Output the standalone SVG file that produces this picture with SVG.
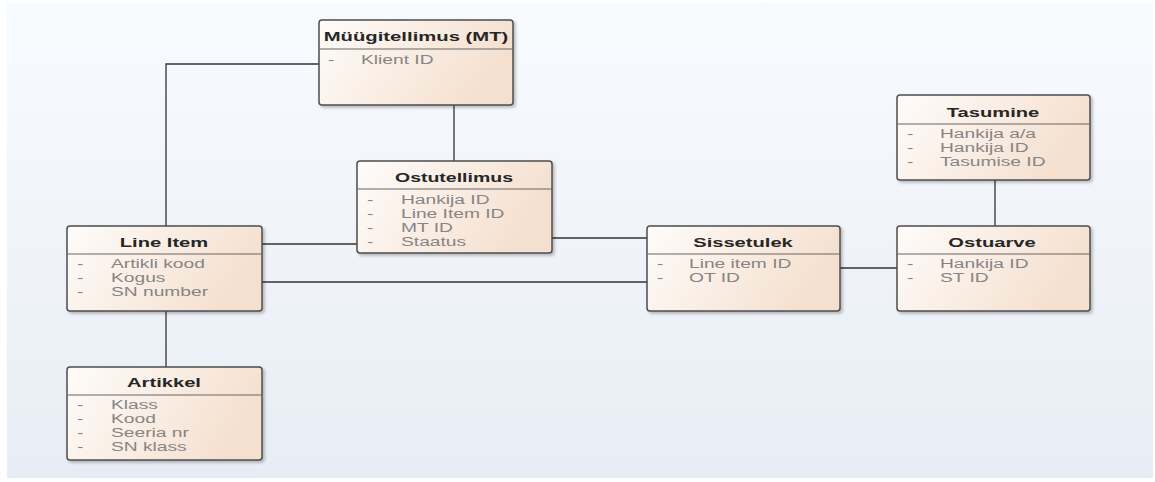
<svg xmlns="http://www.w3.org/2000/svg" width="1155" height="482" viewBox="0 0 1155 482">
  <defs>
    <linearGradient id="bg" x1="0" y1="0" x2="0" y2="1">
      <stop offset="0" stop-color="#f8fbfe"/>
      <stop offset="1" stop-color="#e8edf5"/>
    </linearGradient>
    <linearGradient id="boxFill" x1="0" y1="0" x2="1" y2="0.3">
      <stop offset="0" stop-color="#fefcfa"/>
      <stop offset="1" stop-color="#f5e0cf"/>
    </linearGradient>
    <filter id="shadow" x="-10%" y="-10%" width="130%" height="140%">
      <feDropShadow dx="2" dy="2" stdDeviation="1.5" flood-color="#000" flood-opacity="0.25"/>
    </filter>
  </defs>
  <style>
    .box { fill: url(#boxFill); stroke: #4d4d4d; stroke-width: 1.5; filter: url(#shadow); }
    .sep { stroke: #666; stroke-width: 1.2; }
    .title { font-family: "Liberation Sans", Arial, sans-serif; font-size: 13px; font-weight: bold; fill: #262626; text-anchor: middle; }
    .attr { font-family: "Liberation Sans", Arial, sans-serif; font-size: 12px; fill: #858585; }
    .conn { stroke: #333; stroke-width: 1.3; fill: none; }
  </style>

  <rect width="1155" height="482" fill="#ffffff"/>
  <rect x="7" y="3" width="1146" height="475" fill="url(#bg)"/>

  <!-- connectors -->
  <g id="connectors">
    <polyline class="conn" points="319,64 166,64 166,226"/>
    <line class="conn" x1="454" y1="105" x2="454" y2="161"/>
    <line class="conn" x1="262" y1="244" x2="357" y2="244"/>
    <line class="conn" x1="552" y1="238" x2="647" y2="238"/>
    <line class="conn" x1="262" y1="282" x2="647" y2="282"/>
    <line class="conn" x1="840" y1="268" x2="897" y2="268"/>
    <line class="conn" x1="995" y1="180" x2="995" y2="226"/>
    <line class="conn" x1="166" y1="311" x2="166" y2="367"/>
  </g>

  <!-- Müügitellimus (MT) -->
  <g id="node-myygitellimus">
    <rect class="box" x="319" y="20" width="194" height="85" rx="3"/>
    <line class="sep" x1="319" y1="49" x2="513" y2="49"/>
    <text class="title" transform="translate(416 41) scale(1.56 1)">Müügitellimus (MT)</text>
    <text class="attr" transform="translate(328 64) scale(1.6 1)">-</text>
    <text class="attr" transform="translate(361 64) scale(1.6 1)">Klient ID</text>
  </g>

  <!-- Ostutellimus -->
  <g id="node-ostutellimus">
    <rect class="box" x="357" y="161" width="195" height="92" rx="3"/>
    <line class="sep" x1="357" y1="189" x2="552" y2="189"/>
    <text class="title" transform="translate(454 182) scale(1.5 1)">Ostutellimus</text>
    <text class="attr" transform="translate(367 204) scale(1.6 1)">-</text>
    <text class="attr" transform="translate(401 204) scale(1.6 1)">Hankija ID</text>
    <text class="attr" transform="translate(367 218) scale(1.6 1)">-</text>
    <text class="attr" transform="translate(401 218) scale(1.6 1)">Line Item ID</text>
    <text class="attr" transform="translate(367 232) scale(1.6 1)">-</text>
    <text class="attr" transform="translate(401 232) scale(1.6 1)">MT ID</text>
    <text class="attr" transform="translate(367 246) scale(1.6 1)">-</text>
    <text class="attr" transform="translate(401 246) scale(1.6 1)">Staatus</text>
  </g>

  <!-- Line Item -->
  <g id="node-line-item">
    <rect class="box" x="67" y="226" width="195" height="85" rx="3"/>
    <line class="sep" x1="67" y1="254" x2="262" y2="254"/>
    <text class="title" transform="translate(164 247) scale(1.55 1)">Line Item</text>
    <text class="attr" transform="translate(77 268) scale(1.6 1)">-</text>
    <text class="attr" transform="translate(111 268) scale(1.6 1)">Artikli kood</text>
    <text class="attr" transform="translate(77 282) scale(1.6 1)">-</text>
    <text class="attr" transform="translate(111 282) scale(1.6 1)">Kogus</text>
    <text class="attr" transform="translate(77 296) scale(1.6 1)">-</text>
    <text class="attr" transform="translate(111 296) scale(1.6 1)">SN number</text>
  </g>

  <!-- Artikkel -->
  <g id="node-artikkel">
    <rect class="box" x="67" y="367" width="195" height="93" rx="3"/>
    <line class="sep" x1="67" y1="395" x2="262" y2="395"/>
    <text class="title" transform="translate(164 387) scale(1.55 1)">Artikkel</text>
    <text class="attr" transform="translate(77 409) scale(1.6 1)">-</text>
    <text class="attr" transform="translate(111 409) scale(1.6 1)">Klass</text>
    <text class="attr" transform="translate(77 423) scale(1.6 1)">-</text>
    <text class="attr" transform="translate(111 423) scale(1.6 1)">Kood</text>
    <text class="attr" transform="translate(77 437) scale(1.6 1)">-</text>
    <text class="attr" transform="translate(111 437) scale(1.6 1)">Seeria nr</text>
    <text class="attr" transform="translate(77 451) scale(1.6 1)">-</text>
    <text class="attr" transform="translate(111 451) scale(1.6 1)">SN klass</text>
  </g>

  <!-- Sissetulek -->
  <g id="node-sissetulek">
    <rect class="box" x="647" y="226" width="193" height="85" rx="3"/>
    <line class="sep" x1="647" y1="254" x2="840" y2="254"/>
    <text class="title" transform="translate(743 247) scale(1.55 1)">Sissetulek</text>
    <text class="attr" transform="translate(657 268) scale(1.6 1)">-</text>
    <text class="attr" transform="translate(689 268) scale(1.6 1)">Line item ID</text>
    <text class="attr" transform="translate(657 282) scale(1.6 1)">-</text>
    <text class="attr" transform="translate(689 282) scale(1.6 1)">OT ID</text>
  </g>

  <!-- Tasumine -->
  <g id="node-tasumine">
    <rect class="box" x="897" y="95" width="193" height="85" rx="3"/>
    <line class="sep" x1="897" y1="124" x2="1090" y2="124"/>
    <text class="title" transform="translate(993 117) scale(1.55 1)">Tasumine</text>
    <text class="attr" transform="translate(907 138) scale(1.6 1)">-</text>
    <text class="attr" transform="translate(940 138) scale(1.6 1)">Hankija a/a</text>
    <text class="attr" transform="translate(907 152) scale(1.6 1)">-</text>
    <text class="attr" transform="translate(940 152) scale(1.6 1)">Hankija ID</text>
    <text class="attr" transform="translate(907 166) scale(1.6 1)">-</text>
    <text class="attr" transform="translate(940 166) scale(1.6 1)">Tasumise ID</text>
  </g>

  <!-- Ostuarve -->
  <g id="node-ostuarve">
    <rect class="box" x="897" y="226" width="193" height="85" rx="3"/>
    <line class="sep" x1="897" y1="254" x2="1090" y2="254"/>
    <text class="title" transform="translate(992 247) scale(1.55 1)">Ostuarve</text>
    <text class="attr" transform="translate(907 268) scale(1.6 1)">-</text>
    <text class="attr" transform="translate(940 268) scale(1.6 1)">Hankija ID</text>
    <text class="attr" transform="translate(907 282) scale(1.6 1)">-</text>
    <text class="attr" transform="translate(940 282) scale(1.6 1)">ST ID</text>
  </g>
</svg>
